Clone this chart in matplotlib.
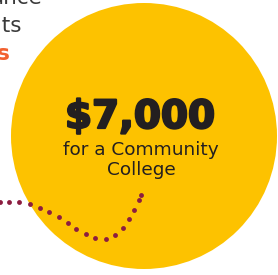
import matplotlib.pyplot as plt
import matplotlib.patheffects as pe
from matplotlib.patches import Circle

# Pixel canvas of the reference
W, H = 278, 275

# Highlight figure
amount = "$7,000"
caption = ["for a Community", "College"]

# Text fragments cut by the left edge
side_lines = ["ance", "nts", "s"]

# Dotted trail (pixel coordinates)
trail_x = [0, 9, 19, 30, 40, 49, 59, 68, 76, 86, 95, 106, 115, 123, 129, 134, 139, 141]
trail_y = [202, 202, 202, 204, 208, 212, 217, 223, 229, 234, 238, 239, 235, 228, 219, 210, 200, 195]

GOLD = "#FDC200"
MAROON = "#8C1D40"
INK = "#231F20"
GREY = "#3A3A3A"
ORANGE = "#F26130"

plt.rcParams["font.family"] = ["DejaVu Sans"]

fig = plt.figure(figsize=(W / 100, H / 100), dpi=100)
ax = fig.add_axes([0, 0, 1, 1])
ax.set_xlim(0, W)
ax.set_ylim(H, 0)
ax.axis("off")

ax.add_patch(Circle((144, 136), 133, color=GOLD, lw=0))

ax.plot(trail_x, trail_y, "o", color=MAROON, ms=3.5, mec="none")

ax.text(42, 4, side_lines[0], ha="right", va="baseline", fontsize=15.5, color=GREY)
ax.text(22, 32, side_lines[1], ha="right", va="baseline", fontsize=15.5, color=GREY)
ax.text(10, 60, side_lines[2], ha="right", va="baseline", fontsize=15.5,
        color=ORANGE, fontweight="bold")

ax.text(140, 128, amount, ha="center", va="baseline", fontsize=28,
        color=INK, fontweight="bold",
        path_effects=[pe.withStroke(linewidth=1.6, foreground=INK)])
ax.text(141, 155, caption[0], ha="center", va="baseline", fontsize=13.3, color=INK)
ax.text(141, 175, caption[1], ha="center", va="baseline", fontsize=13.3, color=INK)

fig.savefig("out.png", dpi=100)
